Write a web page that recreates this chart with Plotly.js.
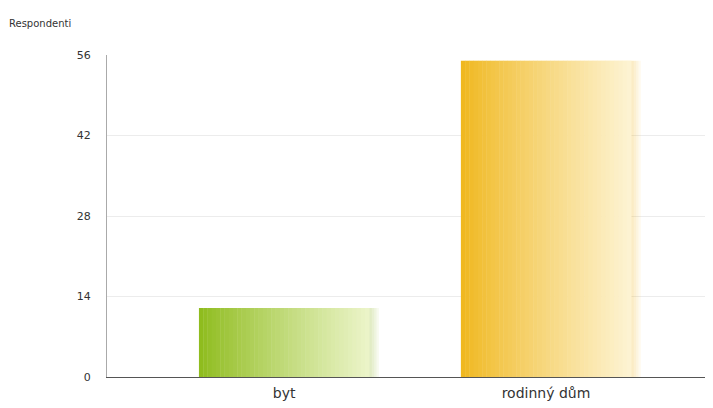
<!DOCTYPE html>
<html><head><meta charset="utf-8">
<script src="https://cdn.plot.ly/plotly-3.0.1.min.js"></script>
<style>html,body{margin:0;padding:0;background:#fff}#chart{width:713px;height:408px}</style>
</head><body><div id="chart"></div>
<script>
const categories = ["byt", "rodinný dům"];
const values = [12, 55];
const yTicks = [0, 14, 28, 42, 56];
const axisTitle = "Respondenti";

const startColors = [[143,188,30],[240,184,32]];
const endColors = [[235,244,200],[253,243,210]];

const barWidth = 0.65;
const strips = 40;
const traces = [];

// soft shadow layers (to the right of each bar)
const shadowLayers = 4;
for (let s = 0; s < shadowLayers; s++) {
  traces.push({
    type: "bar", x: categories, y: values,
    width: barWidth, offset: -barWidth/2 + 0.010 + s*0.009,
    marker: {color: categories.map((c,i)=>{const e=startColors[i];return `rgba(${e[0]},${e[1]},${e[2]},0.07)`;}), line:{width:0}},
    hoverinfo: "skip", showlegend: false
  });
}

for (let k = 0; k < strips; k++) {
  const t = k/(strips-1);
  const w = barWidth/strips;
  traces.push({
    type: "bar", x: categories, y: values,
    width: w*1.08, offset: -barWidth/2 + k*w,
    marker: {
      color: categories.map((c,i)=>{
        const a=startColors[i], b=endColors[i];
        const f = Math.pow(t, 0.9);
        return `rgb(${Math.round(a[0]+(b[0]-a[0])*f)},${Math.round(a[1]+(b[1]-a[1])*f)},${Math.round(a[2]+(b[2]-a[2])*f)})`;
      }),
      line:{width:0}
    },
    hoverinfo: "skip", showlegend: false
  });
}

const layout = {
  width: 713, height: 408,
  margin: {l:107, r:8, t:55, b:31},
  barmode: "overlay",
  paper_bgcolor: "#fff", plot_bgcolor: "#fff",
  font: {family: "DejaVu Sans, Verdana, sans-serif", color: "#333"},
  showlegend: false,
  xaxis: {
    type: "category", range: [-0.676, 1.607],
    showgrid: false, zeroline: false,
    showline: true, linecolor: "#555", linewidth: 1,
    ticks: "", tickfont: {size: 14, color: "#333"}, ticklabelstandoff: 3
  },
  yaxis: {
    range: [0, 56], tickvals: yTicks, ticktext: yTicks.map(String),
    showgrid: true, gridcolor: "#ececec", gridwidth: 1,
    zeroline: false, showline: true, linecolor: "#aaa", linewidth: 1,
    ticks: "", tickfont: {size: 11, color: "#333"}, ticklabelstandoff: 13
  },
  annotations: [{
    text: axisTitle, xref: "paper", yref: "paper",
    x: -100/598, y: 1 + 32/322, xanchor: "left", yanchor: "middle",
    showarrow: false, font: {size: 10, color: "#333"}
  }]
};

Plotly.newPlot("chart", traces, layout, {displayModeBar: false, staticPlot: true});
</script></body></html>
